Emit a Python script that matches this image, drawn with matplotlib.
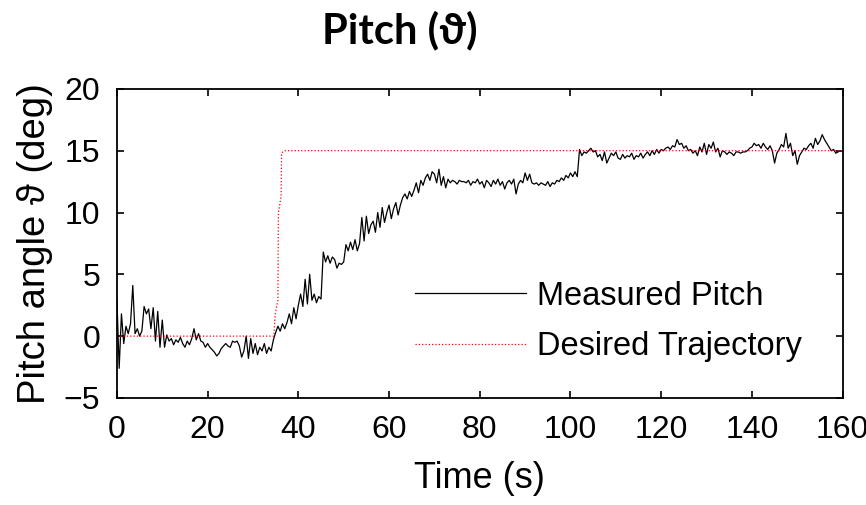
import matplotlib
matplotlib.use('Agg')
import matplotlib.pyplot as plt
import numpy as np

plt.rcParams['font.family'] = ['Liberation Sans', 'DejaVu Sans']

# measured pitch, sampled every 0.5 s (deg)
t_meas = np.arange(0, 159.5, 0.5)
pitch_meas = [
    3.0, -2.6, 1.8, -0.6, 0.8, 0.2, 1.0, 4.1, 0.2, 0.6, 0.0, 0.4, 2.4, 1.8, 2.2, 0.6, 2.3, -0.4, 2.0, -0.9,
    1.3, -0.9, 0.1, -0.4, -0.2, -0.7, -0.3, -0.5, -0.1, -0.6, -0.9, -0.4, -0.7, -0.2, 0.6, -0.3, 0.2, -0.4, -0.5, -0.9,
    -0.6, -0.9, -1.1, -1.3, -1.6, -1.4, -1.0, -0.8, -0.6, -0.8, -0.9, -0.4, -0.5, -0.4, -0.8, -1.7, -1.2, 0.0, -1.8, -0.2,
    -1.4, -0.6, -1.5, -0.9, -1.2, -0.6, -1.4, -0.9, -1.2, -0.3, 0.3, 0.8, 0.4, 1.0, 0.6, 1.1, 1.8, 1.0, 2.3, 1.4,
    2.5, 3.4, 2.4, 4.6, 2.6, 5.0, 2.9, 3.4, 2.7, 3.2, 3.0, 6.8, 6.0, 6.5, 5.9, 6.4, 6.2, 5.5, 5.9, 5.8,
    6.0, 7.4, 6.9, 7.6, 7.0, 7.8, 6.9, 7.5, 9.6, 7.7, 9.7, 8.3, 9.0, 9.3, 8.4, 10.0, 8.8, 10.4, 9.2, 10.0,
    10.6, 9.5, 10.3, 10.8, 9.8, 10.6, 11.2, 11.5, 11.1, 11.7, 11.3, 11.8, 12.4, 11.6, 12.6, 12.2, 12.8, 13.1, 12.6, 13.3,
    13.1, 12.4, 13.5, 12.2, 12.9, 12.0, 12.7, 12.4, 12.6, 12.5, 12.3, 12.6, 12.5, 12.5, 12.4, 12.6, 12.2, 12.5, 12.4, 12.7,
    12.3, 12.5, 12.0, 12.6, 12.4, 12.1, 12.6, 12.3, 12.7, 12.2, 12.5, 11.9, 12.4, 12.6, 12.3, 12.7, 11.5, 12.3, 12.6, 12.4,
    13.2, 12.6, 13.1, 12.4, 12.3, 12.4, 12.2, 12.4, 12.3, 12.2, 12.5, 12.1, 12.4, 12.3, 12.6, 12.5, 12.8, 12.6, 13.0, 12.8,
    13.2, 12.9, 13.3, 12.9, 15.1, 14.6, 14.9, 14.8, 15.0, 15.2, 14.9, 15.0, 14.5, 14.7, 14.2, 14.9, 14.0, 14.4, 14.8, 14.6,
    14.9, 14.4, 14.3, 14.7, 14.4, 14.6, 14.5, 14.8, 14.3, 14.6, 14.5, 14.8, 14.4, 14.7, 14.9, 14.6, 15.0, 14.7, 15.1, 14.8,
    15.1, 15.0, 15.2, 15.3, 15.1, 15.4, 15.3, 15.9, 15.5, 15.6, 15.2, 15.4, 15.0, 15.1, 14.8, 15.0, 14.6, 15.3, 14.9, 15.6,
    14.7, 15.5, 15.2, 15.7, 14.9, 15.2, 14.5, 15.0, 14.9, 14.7, 14.9, 14.8, 14.6, 14.9, 14.9, 14.8, 14.9, 14.9, 15.0, 15.2,
    15.3, 15.6, 15.4, 15.5, 15.2, 15.6, 15.3, 15.1, 15.4, 15.0, 14.0, 14.8, 15.1, 15.5, 15.3, 16.4, 15.2, 15.6, 14.6, 15.0,
    13.9, 14.6, 14.9, 15.2, 15.1, 15.4, 15.6, 15.2, 16.0, 15.5, 15.8, 16.3, 15.9, 15.6, 15.3, 15.0, 15.1, 14.8, 14.9,
]

# desired trajectory: hold at 0, step up to 15 deg around t = 35 s
t_des = [0, 34.6, 34.9, 35.5, 35.6, 36.2, 36.3, 36.9, 160]
pitch_des = [0, 0, 1.8, 2.9, 10.0, 11.3, 14.8, 15.0, 15.0]

fig = plt.figure(figsize=(8.66, 5.05), dpi=100)
ax = fig.add_axes([0.135, 0.212, 0.838, 0.612])

ax.plot(t_meas, pitch_meas, color='black', linewidth=0.9, label='Measured Pitch')
ax.plot(t_des, pitch_des, color='red', linewidth=0.9, linestyle=':', label='Desired Trajectory')

ax.set_xlim(0, 160)
ax.set_ylim(-5, 20)
ax.set_xticks(np.arange(0, 161, 20))
ax.set_yticks(np.arange(-5, 21, 5))
ax.tick_params(direction='in', top=True, right=True, length=5, width=1.2,
               labelsize=23, pad=12)
for s in ax.spines.values():
    s.set_linewidth(1.3)

ax.set_xlabel('Time (s)', fontsize=26, labelpad=12)
ax.set_ylabel('Pitch angle ϑ (deg)', fontsize=27.5, labelpad=8)

fig.text(0.462, 0.915, 'Pitch (ϑ)', fontsize=30, fontweight='bold',
         family=['Lato', 'Noto Sans', 'DejaVu Sans'], ha='center', va='baseline')

ax.legend(loc='upper left', bbox_to_anchor=(0.479, 0.444), bbox_transform=fig.transFigure,
          frameon=False, fontsize=23.5, handlelength=3.4, handletextpad=0.35,
          labelspacing=0.6, borderpad=0, borderaxespad=0)

fig.savefig('out.png', dpi=100)
